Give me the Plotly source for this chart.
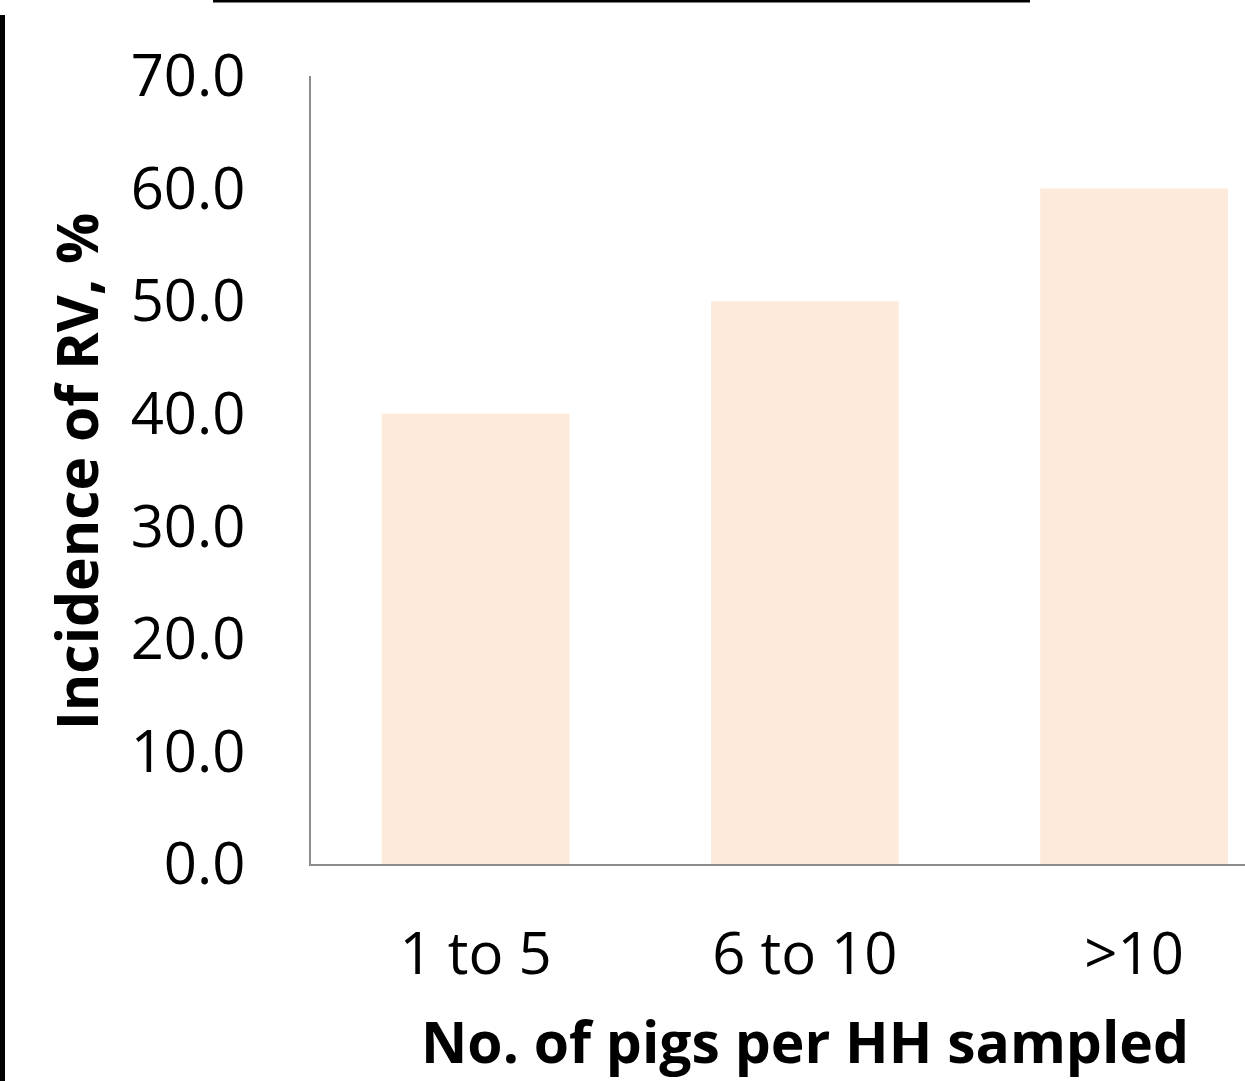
import plotly.graph_objects as go

categories = ["1 to 5", "6 to 10", ">10"]
incidence = [40.0, 50.0, 60.0]
y_ticks = [0, 10, 20, 30, 40, 50, 60, 70]

FONT = "Open Sans"
W, H = 1245, 1081
L, R, T, B = 311, 0, 76, 217
pw, ph = W - L - R, H - T - B


def px_x(x):
    return (x - L) / pw


def px_y(y):
    return (H - B - y) / ph


fig = go.Figure(go.Bar(
    x=categories, y=incidence,
    marker=dict(color="#FDEADA", line=dict(width=0)),
    width=0.57,
))

fig.update_layout(
    width=W, height=H,
    margin=dict(l=L, r=R, t=T, b=B, pad=0),
    plot_bgcolor="white", paper_bgcolor="white",
    showlegend=False,
    font=dict(family=FONT, color="black", size=58),
    xaxis=dict(
        range=[-0.5, 2.337], showgrid=False, zeroline=False,
        showline=True, linecolor="#8c8c8c", linewidth=2,
        ticks="", ticklabelstandoff=38,
        tickfont=dict(family=FONT, size=58, color="black"),
    ),
    yaxis=dict(
        range=[0, 70], tickvals=y_ticks, tickformat=".1f",
        showgrid=False, zeroline=False,
        showline=True, linecolor="#8c8c8c", linewidth=2,
        ticks="", ticklabelstandoff=52,
        tickfont=dict(family=FONT, size=58, color="black"),
    ),
    annotations=[
        dict(text="<b>Incidence of RV, %</b>", xref="paper", yref="paper",
             x=px_x(76), y=px_y(472), textangle=-90, showarrow=False,
             xanchor="center", yanchor="middle",
             font=dict(family=FONT, size=57, color="black")),
        dict(text="<b>No. of pigs per HH sampled</b>", xref="paper", yref="paper",
             x=px_x(805), y=px_y(1041),
             showarrow=False, xanchor="center", yanchor="middle",
             font=dict(family=FONT, size=57, color="black")),
    ],
    shapes=[
        dict(type="line", xref="paper", yref="paper",
             x0=px_x(213), x1=px_x(1030), y0=px_y(1), y1=px_y(1),
             line=dict(color="black", width=3)),
        dict(type="line", xref="paper", yref="paper",
             x0=px_x(2.5), x1=px_x(2.5), y0=px_y(15), y1=px_y(1081),
             line=dict(color="black", width=5)),
    ],
)

fig.write_html("out.html", config={"displayModeBar": False},
               post_script="document.body.style.margin='0';")
